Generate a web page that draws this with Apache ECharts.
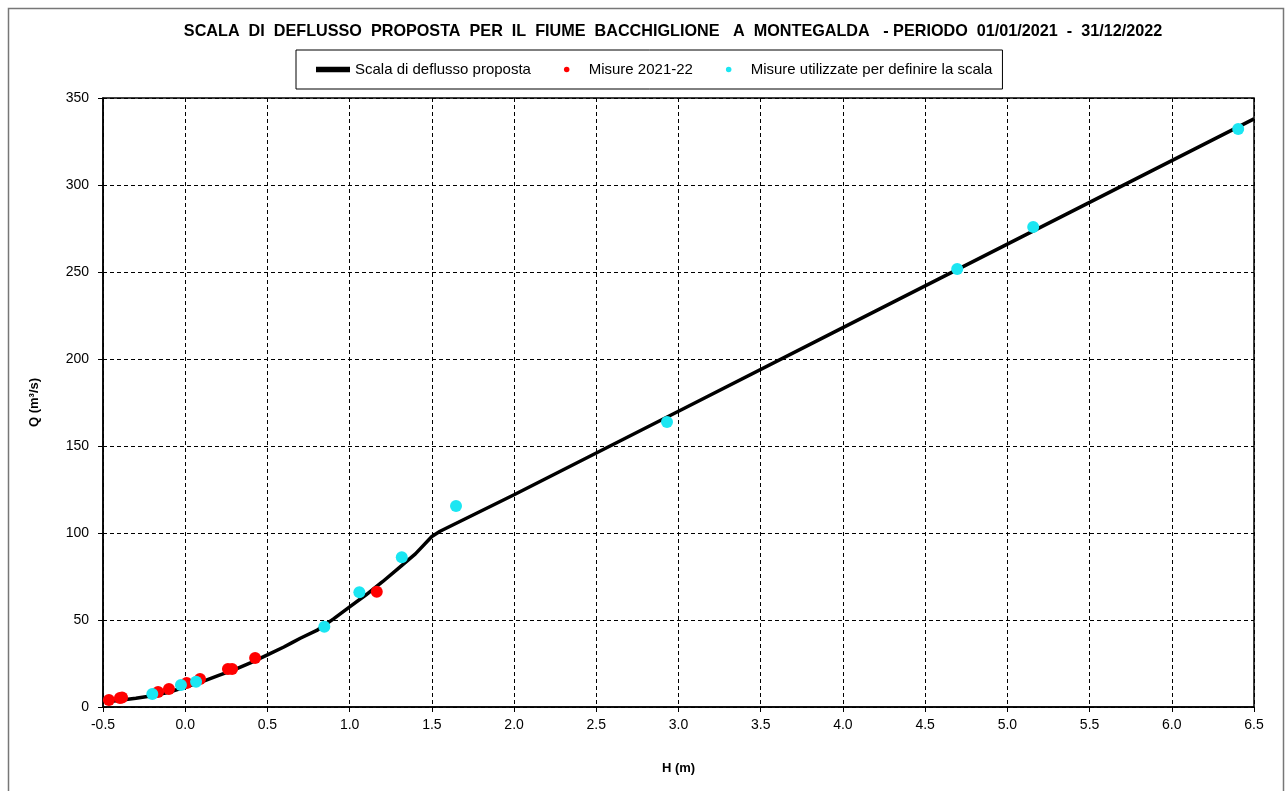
<!DOCTYPE html>
<html><head><meta charset="utf-8">
<script src="https://cdn.jsdelivr.net/npm/echarts@6/dist/echarts.min.js"></script>
<style>html,body{margin:0;padding:0;background:#fff}#c{width:1287px;height:791px}</style>
</head><body><div id="c"></div>
<script>
const curveH = [-0.47,-0.3,-0.2,-0.1,0,0.1,0.2,0.3,0.4,0.5,0.6,0.65,0.7,0.8,0.9,1.0,1.1,1.2,1.3,1.4,1.5,1.55,2,3,4,5,6,6.5];
const curveQ = [3,5,6.5,8.5,11.5,14.5,18,21.5,25.5,30,34.5,37,39.5,44,50.5,57.5,64.5,72,80,88,98,101,122,170,218,266,314,338];
const redH = [-0.464,-0.397,-0.384,-0.165,-0.099,0.009,0.09,0.26,0.285,0.425,1.165];
const redQ = [4.0,5.2,5.5,8.6,10.3,13.8,16.1,21.8,21.8,28.2,66.3];
const cyanH = [-0.2,-0.026,0.066,0.846,1.059,1.317,1.647,2.93,4.695,5.157,6.404];
const cyanQ = [7.5,12.6,14.5,46.1,65.9,86.0,115.5,163.8,251.7,275.9,332.2];
const zip = (a,b)=>a.map((v,i)=>[v,b[i]]);
const font = 'Liberation Sans, Arial, sans-serif';
const chart = echarts.init(document.getElementById('c'));
chart.setOption({
  animation:false,
  textStyle:{fontFamily:font},
  title:{text:'SCALA  DI  DEFLUSSO  PROPOSTA  PER  IL  FIUME  BACCHIGLIONE   A  MONTEGALDA   - PERIODO  01/01/2021  -  31/12/2022',
    left:668, textAlign:'center', top:19, textStyle:{fontSize:16.2, fontWeight:'bold', color:'#000', fontFamily:font}},
  legend:{left:296, top:50, borderColor:'#000', borderWidth:1, padding:[12,10,12,20],
    itemWidth:34, itemHeight:5.5, itemGap:33, textStyle:{fontSize:15, color:'#000', fontFamily:font},
    data:[{name:'Scala di deflusso proposta', icon:'rect'},{name:'Misure 2021-22', icon:'circle'},{name:'Misure utilizzate per definire la scala', icon:'circle'}]},
  graphic:[{type:'rect', shape:{x:8.5,y:8.5,width:1275,height:790}, style:{fill:'none', stroke:'#777', lineWidth:1.5}, silent:true}],
  grid:{left:103, right:33, top:98, bottom:84, show:true, borderColor:'#000', borderWidth:1.5},
  xAxis:{type:'value', min:-0.5, max:6.5, interval:0.5, name:'H (m)', nameLocation:'middle', nameGap:55,
    nameTextStyle:{fontSize:13, fontWeight:'bold', color:'#000'},
    axisLine:{lineStyle:{color:'#000', width:1.5}}, axisTick:{show:true, length:5, lineStyle:{color:'#000'}},
    axisLabel:{fontSize:14, color:'#000', margin:11, formatter:v=>v.toFixed(1)},
    splitLine:{show:true, lineStyle:{color:'#000', type:[4,3], width:1}}},
  yAxis:{type:'value', min:0, max:350, interval:50, name:'Q (m³/s)', nameLocation:'middle', nameGap:62, nameRotate:90,
    nameTextStyle:{fontSize:13, fontWeight:'bold', color:'#000'},
    axisLine:{show:true, onZero:false, lineStyle:{color:'#000', width:1.5}}, axisTick:{show:true, length:5, lineStyle:{color:'#000'}},
    axisLabel:{fontSize:14, color:'#000', margin:14},
    splitLine:{show:true, lineStyle:{color:'#000', type:[4,3], width:1}}},
  series:[
    {name:'Scala di deflusso proposta', type:'line', data:zip(curveH,curveQ), showSymbol:false, symbol:'none',
      lineStyle:{color:'#000', width:3.5}, itemStyle:{color:'#000'}, z:2},
    {name:'Misure 2021-22', type:'scatter', data:zip(redH,redQ), symbol:'circle', symbolSize:12, itemStyle:{color:'#ff0000', opacity:1}, z:3},
    {name:'Misure utilizzate per definire la scala', type:'scatter', data:zip(cyanH,cyanQ), symbol:'circle', symbolSize:12, itemStyle:{color:'#1be6f2', opacity:1}, z:4}
  ]
});
</script></body></html>
